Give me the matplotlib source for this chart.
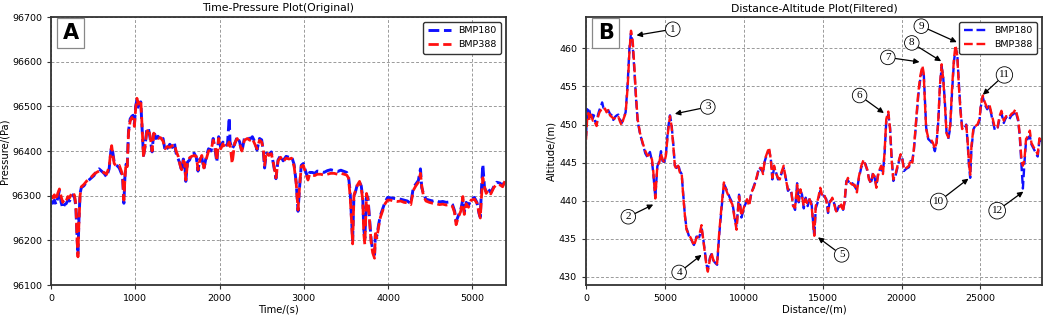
import numpy as np
import matplotlib
matplotlib.use("Agg")
import matplotlib.pyplot as plt

# ---- panel A: time / pressure (raw) ----
time_s = [0, 20, 40, 60, 80, 100, 120, 140, 160, 180, 200, 220, 240, 260, 280, 295, 310, 320, 330, 345,
          360, 390, 420, 450, 480, 510, 540, 570, 600, 630, 660, 690, 710, 720, 735, 750, 780, 810, 835, 850,
          865, 878, 890, 905, 920, 940, 960, 975, 990, 1005, 1020, 1035, 1050, 1065, 1080, 1098, 1115, 1135, 1155, 1175,
          1200, 1220, 1245, 1270, 1300, 1330, 1355, 1380, 1410, 1440, 1465, 1485, 1510, 1530, 1550, 1570, 1585, 1600, 1620, 1645,
          1670, 1700, 1725, 1745, 1765, 1790, 1815, 1840, 1870, 1900, 1925, 1950, 1968, 1990, 2015, 2040, 2070, 2095, 2115, 2125,
          2150, 2180, 2210, 2240, 2265, 2295, 2330, 2360, 2390, 2420, 2445, 2475, 2500, 2520, 2535, 2555, 2585, 2615, 2645, 2670,
          2695, 2725, 2755, 2790, 2825, 2855, 2885, 2910, 2932, 2950, 2970, 2995, 3020, 3050, 3070, 3100, 3130, 3160, 3200, 3240,
          3280, 3320, 3360, 3400, 3440, 3480, 3510, 3530, 3550, 3565, 3580, 3595, 3615, 3640, 3662, 3682, 3700, 3712, 3725, 3745,
          3762, 3780, 3800, 3818, 3840, 3850, 3868, 3888, 3910, 3940, 3965, 3995, 4030, 4070, 4110, 4150, 4190, 4230, 4270, 4300,
          4330, 4360, 4385, 4400, 4420, 4450, 4490, 4530, 4570, 4610, 4650, 4690, 4730, 4765, 4790, 4808, 4835, 4865, 4888, 4905,
          4928, 4955, 4985, 5025, 5055, 5080, 5095, 5110, 5125, 5145, 5165, 5190, 5220, 5255, 5290, 5330, 5360, 5390]

p_bmp180 = [96288, 96283, 96290, 96280, 96295, 96312, 96285, 96272, 96280, 96282, 96290, 96288, 96296, 96302, 96295, 96276, 96205, 96168, 96238, 96305,
            96318, 96322, 96330, 96335, 96340, 96345, 96356, 96360, 96355, 96350, 96342, 96360, 96398, 96410, 96395, 96375, 96368, 96362, 96350, 96340,
            96283, 96345, 96370, 96368, 96445, 96472, 96478, 96480, 96460, 96500, 96515, 96498, 96508, 96510, 96455, 96390, 96408, 96445, 96452, 96430,
            96398, 96445, 96428, 96433, 96425, 96428, 96400, 96406, 96415, 96408, 96418, 96395, 96382, 96372, 96355, 96382, 96378, 96332, 96375, 96380,
            96392, 96395, 96385, 96355, 96382, 96385, 96360, 96385, 96405, 96400, 96428, 96400, 96375, 96432, 96408, 96420, 96410, 96416, 96475, 96420,
            96405, 96415, 96432, 96420, 96398, 96428, 96432, 96426, 96432, 96420, 96402, 96428, 96425, 96400, 96362, 96395, 96392, 96398, 96365, 96338,
            96380, 96390, 96378, 96388, 96386, 96388, 96370, 96330, 96265, 96318, 96368, 96372, 96356, 96338, 96352, 96352, 96350, 96355, 96354, 96352,
            96356, 96358, 96356, 96354, 96357, 96354, 96352, 96345, 96310, 96255, 96200, 96298, 96310, 96328, 96330, 96322, 96295, 96225, 96205, 96300,
            96295, 96250, 96200, 96178, 96168, 96212, 96210, 96235, 96256, 96272, 96286, 96296, 96295, 96294, 96293, 96292, 96290, 96288, 96282, 96318,
            96326, 96334, 96360, 96318, 96305, 96292, 96290, 96288, 96290, 96286, 96287, 96285, 96286, 96280, 96266, 96242, 96255, 96270, 96292, 96262,
            96285, 96278, 96292, 96296, 96285, 96260, 96252, 96320, 96370, 96318, 96308, 96315, 96307, 96320, 96330, 96328, 96322, 96336]

p_bmp388 = [96300, 96295, 96302, 96290, 96305, 96315, 96298, 96285, 96292, 96288, 96298, 96295, 96303, 96308, 96300, 96280, 96200, 96163, 96230, 96300,
            96320, 96325, 96332, 96338, 96342, 96348, 96352, 96355, 96350, 96352, 96348, 96365, 96400, 96412, 96390, 96372, 96365, 96368, 96355, 96345,
            96290, 96340, 96372, 96365, 96440, 96468, 96475, 96470, 96455, 96495, 96518, 96505, 96512, 96515, 96460, 96385, 96410, 96440, 96450, 96435,
            96400, 96440, 96432, 96428, 96430, 96422, 96405, 96410, 96408, 96412, 96415, 96400, 96388, 96370, 96358, 96378, 96375, 96335, 96372, 96385,
            96388, 96390, 96388, 96358, 96378, 96390, 96362, 96380, 96400, 96402, 96424, 96405, 96378, 96428, 96405, 96416, 96406, 96412, 96420, 96415,
            96372, 96418, 96428, 96416, 96400, 96424, 96428, 96424, 96428, 96415, 96405, 96424, 96420, 96405, 96368, 96398, 96390, 96394, 96368, 96340,
            96378, 96386, 96376, 96384, 96382, 96384, 96366, 96328, 96268, 96320, 96365, 96368, 96352, 96335, 96348, 96346, 96345, 96348, 96348, 96346,
            96348, 96350, 96350, 96348, 96350, 96348, 96346, 96340, 96300, 96250, 96192, 96300, 96312, 96325, 96332, 96318, 96290, 96215, 96190, 96305,
            96290, 96245, 96195, 96172, 96160, 96215, 96205, 96230, 96252, 96268, 96282, 96290, 96290, 96288, 96287, 96288, 96285, 96284, 96280, 96312,
            96322, 96330, 96350, 96322, 96300, 96288, 96285, 96283, 96282, 96280, 96281, 96279, 96280, 96276, 96262, 96235, 96252, 96266, 96298, 96258,
            96282, 96274, 96290, 96292, 96283, 96262, 96250, 96300, 96340, 96320, 96305, 96312, 96304, 96318, 96326, 96324, 96320, 96334]

# ---- panel B: distance / altitude (filtered) ----
dist_m = [0, 80, 150, 220, 290, 360, 430, 500, 580, 670, 760, 850, 950, 1020, 1100, 1200, 1300, 1420, 1520, 1630,
          1730, 1840, 1950, 2050, 2150, 2260, 2370, 2510, 2640, 2750, 2850, 2950, 3060, 3165, 3270, 3420, 3590, 3760, 3900, 4050,
          4180, 4260, 4390, 4520, 4640, 4750, 4850, 4960, 5060, 5190, 5320, 5420, 5530, 5630, 5740, 5840, 5950, 6060, 6160, 6270,
          6370, 6520, 6690, 6840, 7000, 7170, 7320, 7430, 7530, 7640, 7720, 7850, 7950, 8060, 8210, 8310, 8440, 8590, 8740, 8900,
          9110, 9280, 9430, 9540, 9700, 9850, 10060, 10210, 10340, 10480, 10630, 10800, 10970, 11120, 11220, 11330, 11480, 11600, 11710, 11810,
          11920, 12020, 12170, 12280, 12380, 12530, 12660, 12800, 12910, 13020, 13120, 13250, 13380, 13480, 13590, 13690, 13800, 13920, 14050, 14180,
          14300, 14390, 14470, 14560, 14700, 14850, 14980, 15100, 15230, 15340, 15440, 15610, 15760, 15860, 16030, 16180, 16290, 16390, 16500, 16600,
          16710, 16880, 17020, 17170, 17300, 17450, 17600, 17720, 17830, 17930, 18060, 18190, 18290, 18400, 18500, 18610, 18710, 18820, 18920, 19030,
          19160, 19270, 19370, 19480, 19620, 19790, 19940, 20050, 20150, 20300, 20470, 20570, 20680, 20780, 20930, 21060, 21190, 21320, 21400, 21480,
          21560, 21690, 21840, 21990, 22110, 22220, 22330, 22430, 22540, 22640, 22750, 22850, 22960, 23080, 23210, 23320, 23420, 23530, 23630, 23740,
          23840, 23970, 24100, 24180, 24270, 24350, 24430, 24560, 24690, 24810, 24940, 25020, 25150, 25280, 25430, 25570, 25740, 25910, 26080, 26210,
          26330, 26480, 26630, 26800, 26970, 27110, 27220, 27390, 27490, 27600, 27690, 27790, 27890, 28020, 28130, 28230, 28380, 28530, 28630, 28740,
          28860]

alt_bmp180 = [448.5, 452.0, 451.2, 451.8, 451.0, 451.6, 450.8, 451.2, 450.4, 450.0, 451.3, 451.9, 452.4, 452.9, 452.2, 452.2, 451.8, 451.8, 451.4, 451.2,
              450.6, 451.0, 451.2, 451.3, 450.6, 450.2, 450.8, 451.6, 455.4, 460.0, 462.0, 460.6, 457.2, 453.5, 450.5, 448.8, 447.5, 446.2, 445.7, 446.4,
              445.2, 443.6, 440.5, 444.5, 445.2, 446.5, 445.2, 445.1, 446.0, 449.3, 451.2, 450.0, 447.5, 444.6, 444.3, 444.8, 443.9, 443.5, 440.8, 438.0,
              436.4, 435.4, 434.8, 434.2, 435.3, 435.2, 436.3, 435.0, 433.4, 431.6, 431.0, 432.5, 433.0, 432.2, 431.8, 431.6, 435.5, 439.0, 442.2, 441.5,
              440.4, 439.7, 437.7, 436.6, 440.8, 437.8, 439.4, 440.0, 439.5, 441.0, 441.9, 442.8, 444.4, 444.0, 443.8, 445.2, 446.2, 446.6, 445.6, 442.8,
              444.4, 443.9, 442.8, 443.0, 443.5, 444.3, 443.0, 441.3, 441.6, 441.0, 439.5, 438.8, 442.3, 439.8, 441.3, 440.8, 439.0, 440.4, 439.3, 440.4,
              439.5, 437.3, 435.3, 439.0, 439.9, 441.3, 440.8, 440.6, 440.2, 438.4, 439.9, 440.2, 439.5, 438.4, 439.3, 439.3, 438.8, 439.8, 442.6, 442.7,
              442.2, 442.3, 441.9, 441.4, 443.0, 444.4, 445.0, 444.8, 443.9, 443.0, 442.2, 443.7, 443.0, 442.0, 443.4, 444.0, 444.3, 443.8, 446.0, 450.4,
              451.3, 449.6, 445.7, 442.6, 443.3, 444.8, 446.0, 445.6, 443.9, 444.2, 444.4, 445.2, 445.2, 446.6, 450.4, 453.8, 456.0, 457.3, 457.0, 453.2,
              449.6, 448.1, 447.8, 447.4, 446.5, 447.6, 450.4, 454.8, 457.6, 456.2, 452.8, 449.0, 448.1, 449.5, 454.6, 458.2, 460.0, 459.3, 455.5, 451.9,
              449.6, 449.4, 450.0, 447.8, 444.7, 443.0, 446.8, 449.4, 449.9, 449.8, 450.5, 452.3, 453.6, 452.6, 452.0, 452.5, 450.8, 449.3, 449.4, 450.8,
              451.5, 450.2, 451.0, 450.6, 451.2, 451.4, 451.8, 450.5, 448.5, 444.8, 441.6, 445.0, 447.8, 448.2, 448.5, 447.4, 446.8, 446.2, 445.8, 448.0,
              447.6]

alt_bmp388 = [448.0, 451.0, 451.5, 450.6, 451.3, 451.0, 450.5, 450.6, 450.2, 449.8, 451.0, 451.6, 451.9, 452.0, 451.8, 452.1, 451.6, 451.9, 451.2, 451.0,
              450.8, 450.8, 450.7, 451.0, 450.4, 449.9, 450.7, 451.5, 455.0, 459.5, 462.3, 461.2, 457.7, 453.8, 450.7, 448.9, 447.6, 446.5, 445.9, 446.1,
              445.4, 443.9, 440.3, 444.6, 445.0, 446.2, 445.4, 445.0, 445.9, 448.9, 451.1, 449.8, 447.2, 444.6, 444.1, 444.6, 443.7, 443.7, 440.6, 438.0,
              436.2, 435.6, 434.9, 434.1, 435.1, 435.4, 436.8, 434.9, 433.2, 431.4, 430.7, 432.3, 433.2, 432.3, 431.6, 431.8, 435.8, 439.3, 442.4, 441.3,
              440.2, 439.5, 437.5, 436.2, 440.6, 438.0, 439.5, 440.2, 439.3, 441.1, 441.7, 443.0, 444.3, 444.3, 443.5, 445.4, 446.3, 447.0, 445.4, 443.0,
              444.6, 443.7, 443.0, 442.8, 443.7, 444.6, 442.8, 441.5, 441.5, 441.1, 439.3, 439.1, 442.1, 440.0, 441.5, 440.6, 439.3, 440.2, 439.5, 440.2,
              439.3, 437.1, 435.4, 439.3, 440.2, 441.7, 440.6, 440.8, 440.0, 438.6, 439.7, 440.4, 439.3, 438.6, 439.1, 439.5, 438.6, 440.0, 442.4, 443.0,
              442.4, 442.1, 442.1, 441.1, 443.2, 444.6, 445.4, 444.6, 444.1, 442.8, 442.4, 443.5, 443.2, 441.7, 443.2, 444.1, 444.6, 443.5, 446.3, 450.7,
              451.7, 449.4, 445.4, 442.8, 443.5, 445.0, 446.1, 445.4, 444.1, 444.3, 444.6, 445.4, 445.0, 446.8, 450.7, 454.2, 456.4, 457.7, 456.8, 452.9,
              449.4, 448.3, 448.1, 447.6, 446.8, 447.6, 450.7, 455.1, 457.9, 456.0, 452.5, 448.9, 448.3, 449.8, 455.1, 458.6, 460.4, 459.0, 455.1, 451.6,
              449.4, 449.8, 449.9, 448.1, 445.0, 443.4, 447.2, 449.6, 449.8, 450.0, 450.7, 452.5, 453.8, 452.9, 452.2, 452.6, 451.1, 449.6, 449.6, 451.1,
              451.8, 450.5, 451.1, 450.9, 451.4, 451.6, 452.0, 450.7, 448.7, 445.4, 444.6, 445.4, 448.1, 448.5, 449.2, 447.6, 447.0, 446.5, 446.1, 448.2,
              447.8]

# circled labels: (label, text position, arrow tip)
marks = ["1", "2", "3", "4", "5", "6", "7", "8", "9", "10", "11", "12"]
mark_text = [(5500, 462.5), (2680, 437.9), (7720, 452.3), (5900, 430.6), (16200, 432.9), (17340, 453.8),
             (19130, 458.8), (20650, 460.7), (21250, 462.9), (22360, 439.9), (26520, 456.5), (26060, 438.7)]
mark_tip = [(3200, 461.7), (4260, 439.5), (5630, 451.4), (7320, 432.9), (14700, 435.2), (18880, 451.5),
            (21140, 458.2), (22510, 458.3), (23500, 460.8), (24240, 442.9), (25150, 453.9), (27720, 441.2)]


def style_axes(ax):
    ax.grid(True, color="#9a9a9a", linestyle=(0, (3, 2)), linewidth=0.7)
    ax.set_axisbelow(True)
    for sp in ax.spines.values():
        sp.set_color("#333333")
        sp.set_linewidth(1.3)
    ax.tick_params(labelsize=6.8, length=3, width=0.8, color="#333333")


def panel_tag(ax, letter):
    ax.text(0.043, 0.94, letter, transform=ax.transAxes, fontsize=15, fontweight="bold",
            ha="center", va="center",
            bbox=dict(boxstyle="square,pad=0.25", fc="white", ec="#888888", lw=0.9))


fig = plt.figure(figsize=(10.45, 3.16), dpi=100)
axA = fig.add_axes([0.0488, 0.0981, 0.4354, 0.8481])
axB = fig.add_axes([0.5608, 0.0981, 0.4363, 0.8481])

# A
axA.plot(time_s, p_bmp180, color="#1010ff", linestyle="--", linewidth=2.1, label="BMP180")
axA.plot(time_s, p_bmp388, color="#ff1010", linestyle="--", linewidth=2.0, label="BMP388")
axA.set_xlim(0, 5400)
axA.set_ylim(96100, 96700)
axA.set_xticks([0, 1000, 2000, 3000, 4000, 5000])
axA.set_yticks([96100, 96200, 96300, 96400, 96500, 96600, 96700])
axA.set_xlabel("Time/(s)", fontsize=7.2, labelpad=1)
axA.set_ylabel("Pressure/(Pa)", fontsize=7.2, labelpad=2)
axA.set_title("Time-Pressure Plot(Original)", fontsize=7.8, pad=4)
style_axes(axA)
panel_tag(axA, "A")
axA.legend(loc="upper right", fontsize=6.8, frameon=True, framealpha=1, edgecolor="#333333",
           handlelength=2.4, borderpad=0.5, labelspacing=0.5)

# B
axB.plot(dist_m, alt_bmp180, color="#1010ff", linestyle="--", linewidth=1.7, label="BMP180")
axB.plot(dist_m, alt_bmp388, color="#ff1010", linestyle="--", linewidth=1.7, label="BMP388")
axB.set_xlim(0, 28900)
axB.set_ylim(428.95, 464.1)
axB.set_xticks([0, 5000, 10000, 15000, 20000, 25000])
axB.set_yticks([430, 435, 440, 445, 450, 455, 460])
axB.set_xlabel("Distance/(m)", fontsize=7.2, labelpad=1)
axB.set_ylabel("Altitude/(m)", fontsize=7.2, labelpad=2)
axB.set_title("Distance-Altitude Plot(Filtered)", fontsize=7.8, pad=4)
style_axes(axB)
panel_tag(axB, "B")
axB.legend(loc="upper right", fontsize=6.8, frameon=True, framealpha=1, edgecolor="#333333",
           handlelength=2.4, borderpad=0.5, labelspacing=0.5)

for lab, xy_t, xy_a in zip(marks, mark_text, mark_tip):
    axB.annotate(lab, xy=xy_a, xytext=xy_t, ha="center", va="center",
                 fontsize=8, family="Liberation Serif",
                 bbox=dict(boxstyle="circle,pad=0.25", fc="white", ec="black", lw=0.6),
                 arrowprops=dict(arrowstyle="-|>", color="black", lw=0.9, mutation_scale=8,
                                 shrinkA=0, shrinkB=0))

fig.savefig("out.png", dpi=100)
